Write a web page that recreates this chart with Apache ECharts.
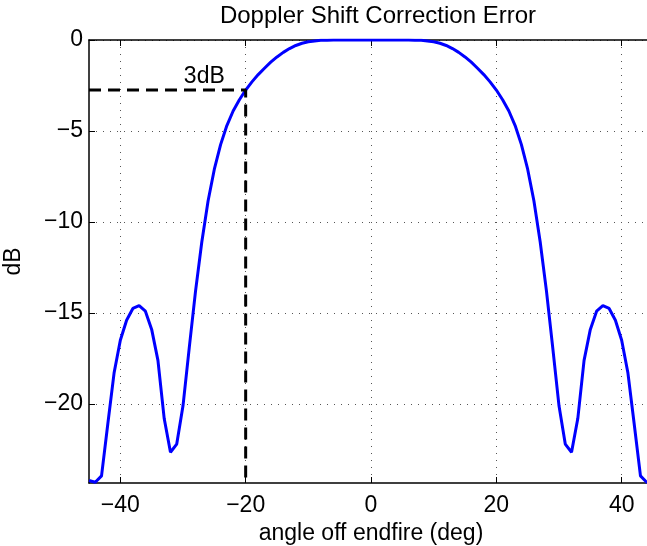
<!DOCTYPE html>
<html>
<head>
<meta charset="utf-8">
<script src="https://cdn.jsdelivr.net/npm/echarts@6/dist/echarts.min.js"></script>
<style>
  html, body { margin: 0; padding: 0; background: #fff; }
  #chart { width: 647px; height: 546px; }
</style>
</head>
<body>
<div id="chart"></div>
<script>
// angle off endfire, 1 deg steps
var angles = [
  -45, -44, -43, -42, -41, -40, -39, -38, -37, -36, -35, -34, -33, -32, -31, -30,
  -29, -28, -27, -26, -25, -24, -23, -22, -21, -20, -19, -18, -17, -16, -15, -14,
  -13, -12, -11, -10, -9, -8, -7, -6, -5, -4, -3, -2, -1, 0,
  1, 2, 3, 4, 5, 6, 7, 8, 9, 10, 11, 12, 13, 14, 15, 16, 17, 18, 19, 20,
  21, 22, 23, 24, 25, 26, 27, 28, 29, 30, 31, 32, 33, 34, 35, 36, 37, 38, 39, 40,
  41, 42, 43, 44, 45
]
// correction error in dB
var errorDb = [
  -24.2, -24.3, -23.95, -21.1, -18.3, -16.5, -15.4, -14.75, -14.6, -14.9, -15.9, -17.6, -20.8, -22.65, -22.2, -20.1,
  -16.9, -13.8, -11.1, -8.85, -7.1, -5.75, -4.7, -3.9, -3.28, -2.75, -2.3, -1.9, -1.55, -1.22, -0.93, -0.68,
  -0.47, -0.3, -0.18, -0.1, -0.05, -0.02, -0.01, 0, 0, 0, 0, 0, 0, 0,
  0, 0, 0, 0, 0, 0, -0.01, -0.02, -0.05, -0.1, -0.18, -0.3, -0.47, -0.68, -0.93, -1.22, -1.55, -1.9, -2.3, -2.75,
  -3.28, -3.9, -4.7, -5.75, -7.1, -8.85, -11.1, -13.8, -16.9, -20.1, -22.2, -22.65, -20.8, -17.6, -15.9, -14.9, -14.6, -14.75, -15.4, -16.5,
  -18.3, -21.1, -23.95, -24.3, -24.2
]
var xTicks = [-40, -20, 0, 20, 40]
var yTicks = [0, -5, -10, -15, -20]
var xRange = [-45, 45]
var yRange = [-24.34, 0]
// 3dB marker
var threeDbLevel = -2.75
var threeDbAngle = -20
var threeDbText = '3dB'
var threeDbTextPos = [-26.6, -2.03]

var font = "'Liberation Sans', Arial, Helvetica, sans-serif"
var minus = function(v) { return String(v).replace('-', '\u2212') }

var curve = []
for (var i = 0; i < angles.length; i++) {
  curve.push([angles[i], errorDb[i]])
}
var markerLine = [
  [xRange[0], threeDbLevel],
  [threeDbAngle, threeDbLevel],
  [threeDbAngle, yRange[0]]
]

var chart = echarts.init(document.getElementById('chart'))
chart.setOption({
  animation: false,
  backgroundColor: '#fff',
  title: {
    text: 'Doppler Shift Correction Error',
    left: 373,
    textAlign: 'center',
    top: -1,
    textStyle: { fontFamily: font, fontSize: 24, fontWeight: 'normal', color: '#000' }
  },
  grid: { left: 89, right: -6, top: 40, bottom: 63, outerBoundsMode: 'none' },
  xAxis: [{
    type: 'value',
    min: xRange[0],
    max: xRange[1],
    name: 'angle off endfire (deg)',
    nameLocation: 'middle',
    nameGap: 33,
    nameTextStyle: { fontFamily: font, fontSize: 23, color: '#000' },
    axisLine: { onZero: false, lineStyle: { color: '#000', width: 1.5 } },
    axisTick: { inside: true, length: 6, customValues: xTicks, lineStyle: { color: '#000' } },
    axisLabel: {
      customValues: xTicks, margin: 11, formatter: minus,
      fontFamily: font, fontSize: 23, color: '#000'
    },
    splitLine: { show: true, lineStyle: { color: '#555', type: [1, 6], width: 1 } }
  }, {
    type: 'value',
    position: 'top',
    min: xRange[0],
    max: xRange[1],
    axisLine: { onZero: false, lineStyle: { color: '#000', width: 1.5 } },
    axisTick: { inside: true, length: 6, customValues: xTicks, lineStyle: { color: '#000' } },
    axisLabel: { show: false },
    splitLine: { show: false }
  }],
  yAxis: {
    type: 'value',
    min: yRange[0],
    max: yRange[1],
    name: 'dB',
    nameLocation: 'middle',
    nameGap: 64,
    nameTextStyle: { fontFamily: font, fontSize: 23, color: '#000' },
    axisLine: { show: true, onZero: false, lineStyle: { color: '#000', width: 1.5 } },
    axisTick: { show: true, inside: true, length: 6, customValues: yTicks, lineStyle: { color: '#000' } },
    axisLabel: {
      customValues: yTicks, margin: 6, formatter: minus,
      fontFamily: font, fontSize: 23, color: '#000'
    },
    splitLine: { show: true, lineStyle: { color: '#555', type: [1, 6], width: 1 } }
  },
  series: [{
    type: 'line',
    data: curve,
    showSymbol: false,
    lineStyle: { color: '#0000ff', width: 3 },
    clip: true
  }, {
    type: 'line',
    data: markerLine,
    showSymbol: false,
    lineStyle: { color: '#000', width: 3, type: [12, 7] },
    markPoint: {
      symbol: 'circle',
      symbolSize: 0,
      label: {
        show: true,
        position: 'inside',
        formatter: threeDbText,
        fontFamily: font,
        fontSize: 23,
        color: '#000'
      },
      data: [{ coord: threeDbTextPos }]
    }
  }]
})
</script>
</body>
</html>
